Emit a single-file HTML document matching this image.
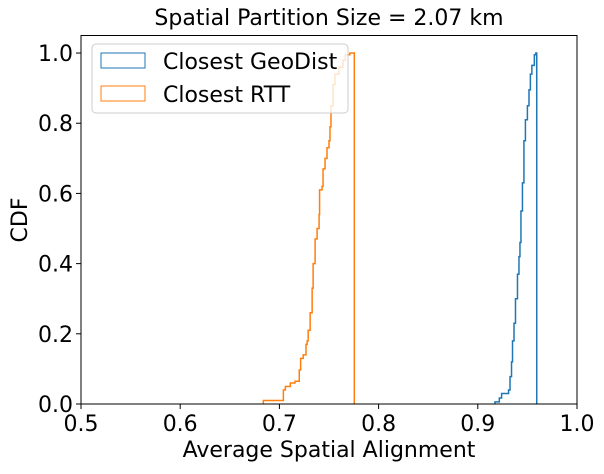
<!DOCTYPE html>
<html><head><meta charset="utf-8"><style>
body{margin:0;background:#fff;}
text{font-family:"DejaVu Sans","Liberation Sans",sans-serif;fill:#000;}
</style></head><body>
<svg id="chart" width="604" height="469">
<rect width="604" height="469" fill="#fff"/>
<g id="plot"></g>
<text x="329" y="25" font-size="22" text-anchor="middle">Spatial Partition Size = 2.07 km</text>
<text x="329" y="457" font-size="22" text-anchor="middle">Average Spatial Alignment</text>
<text transform="translate(27,220) rotate(-90)" font-size="22" text-anchor="middle">CDF</text>
<g>
<rect x="92" y="44" width="256" height="69" rx="4" fill="#fff" fill-opacity="0.8" stroke="#ccc"/>
<rect x="101" y="53" width="44" height="15" fill="none" stroke="#1f77b4"/>
<text x="163" y="69" font-size="22">Closest GeoDist</text>
<rect x="101" y="86" width="44" height="15" fill="none" stroke="#ff7f0e"/>
<text x="163" y="102" font-size="22">Closest RTT</text>
</g>
</svg>
<script>
const xTicks=[0.5,0.6,0.7,0.8,0.9,1.0];
const xTickLabels=["0.5","0.6","0.7","0.8","0.9","1.0"];
const yTicks=[0,0.2,0.4,0.6,0.8,1.0];
const yTickLabels=["0.0","0.2","0.4","0.6","0.8","1.0"];
const rttX=[0.6838,0.704,0.706,0.711,0.7157,0.72,0.7214,0.724,0.7268,0.728,0.729,0.731,0.733,0.734,0.736,0.738,0.740,0.7405,0.743,0.744,0.746,0.748,0.750,0.751,0.752,0.754,0.756,0.760,0.764,0.7665,0.771];
const rttC=[0.01,0.04,0.05,0.06,0.065,0.097,0.13,0.14,0.17,0.18,0.21,0.26,0.33,0.40,0.47,0.50,0.54,0.61,0.62,0.67,0.70,0.73,0.75,0.79,0.85,0.91,0.94,0.96,0.98,0.995,1.0];
const rttEnd=0.7755;
const geoX=[0.9173,0.9217,0.924,0.931,0.9325,0.934,0.935,0.9365,0.938,0.940,0.9415,0.9425,0.9435,0.945,0.9465,0.948,0.950,0.9516,0.953,0.9545,0.957,0.9585];
const geoC=[0.006,0.017,0.03,0.04,0.078,0.12,0.18,0.23,0.30,0.37,0.42,0.46,0.55,0.63,0.75,0.81,0.85,0.895,0.94,0.965,0.995,1.0];
const geoEnd=0.9594;
const L=81,R=577,T=35.5,B=404;
const sx=v=>L+(v-0.5)/0.5*(R-L);
const sy=c=>B-c/1.05*(B-T);
const NS="http://www.w3.org/2000/svg";
const g=document.getElementById('plot');
function mk(t,a){const e=document.createElementNS(NS,t);for(const k in a)e.setAttribute(k,a[k]);g.appendChild(e);return e;}
function step(xs,cs,end,color,name){
  let d=`M${sx(xs[0])},${sy(0)}`;
  for(let i=0;i<xs.length;i++){d+=` H${sx(xs[i])} V${sy(cs[i])}`;}
  d+=` H${sx(end)} V${sy(0)}`;
  const p=mk('path',{d:d,fill:'none',stroke:color,'stroke-width':1.5});
  
  
}
step(rttX,rttC,rttEnd,'#ff7f0e','rtt-cdf-line');
step(geoX,geoC,geoEnd,'#1f77b4','geodist-cdf-line');
const frame=mk('rect',{x:L,y:T,width:R-L,height:B-T,fill:'none',stroke:'#000','stroke-width':1});


xTicks.forEach((v,i)=>{
  const x=sx(v);
  const t=mk('line',{x1:x,x2:x,y1:B,y2:B+5,stroke:'#000'});
  
  
  const l=mk('text',{x:x,y:B+27,'font-size':22,'text-anchor':'middle'});
  l.textContent=xTickLabels[i];
  
  
});
yTicks.forEach((v,i)=>{
  const y=sy(v);
  const t=mk('line',{x1:L-5,x2:L,y1:y,y2:y,stroke:'#000'});
  
  
  const l=mk('text',{x:L-8,y:y+8,'font-size':22,'text-anchor':'end'});
  l.textContent=yTickLabels[i];
  
  
});
</script>
</body></html>
